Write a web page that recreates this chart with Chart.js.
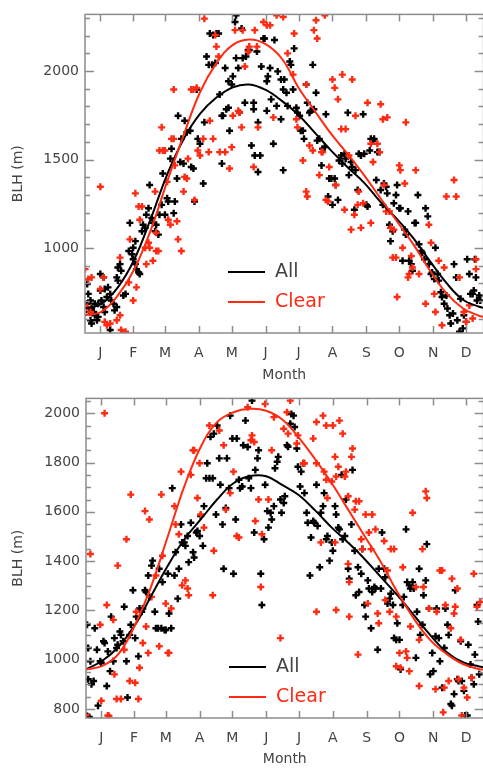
<!DOCTYPE html>
<html>
<head>
<meta charset="utf-8">
<script src="https://cdn.jsdelivr.net/npm/chart.js@4.4.1/dist/chart.umd.min.js"></script>
<style>
  html, body { margin: 0; padding: 0; background: #fff; overflow: hidden; }
  #wrap { position: relative; width: 483px; height: 769px; overflow: hidden; }
  canvas { position: absolute; left: 0; }
  #top { top: 0; }
  #bottom { top: 384px; }
</style>
</head>
<body>
<div id="wrap">
  <canvas id="top" width="490" height="385"></canvas>
  <canvas id="bottom" width="490" height="385"></canvas>
</div>
<script>
// month ticks sit at mid-month day of year
const monthDays = [15, 45, 74, 105, 135, 166, 196, 227, 258, 288, 319, 349];
const monthLabels = ['J', 'F', 'M', 'A', 'M', 'J', 'J', 'A', 'S', 'O', 'N', 'D'];

const topYTicks = [1000, 1500, 2000];
const botYTicks = [800, 1000, 1200, 1400, 1600, 1800, 2000];

// [day of year, BLH m]
const topAllPts = [
  [3,797],[4,741],[6,704],[3,685],[7,658],[9,639],[10,620],[13,611],[6,592],[15,853],[15,760],[18,834],[19,769],[21,723],[22,778],[24,741],[24,537],[25,704],[27,685],[28,648],[30,667],[16,704],[18,667],[19,639],[13,685],[10,685],[7,574],[31,890],[33,909],[34,872],[36,732],[38,741],[30,834],[31,816],[12,592],[5,639],
  [41,983],[44,965],[45,937],[47,909],[48,881],[50,862],[51,853],[45,1002],[47,1039],[42,1142],[53,1095],[54,1132],[56,1114],[57,1188],[59,1225],[60,1356],[62,1170],[63,1142],[65,1095],[66,1132],[68,1076],[69,1188],[71,1244],[72,1421],[74,1188],[76,1281],[77,1263],[79,1505],[80,1561],[82,1197],[83,1263],[85,1393],[86,1747],[88,1486],[89,1617],[91,1477],[92,1719],[94,1654],[97,1663],[98,1458],[100,1449],[101,1263],[103,1896],[104,1617],[106,1589],[109,1365],[110,1710],[112,2082],[114,2035],[115,2212],[117,2035],[118,2203],[120,2045],[121,2212],[123,2212],[124,1868],[126,1747],[127,1747],[126,1477],[129,2017],[130,1784],[132,1793],[132,1942],[133,1663],[135,1924],[136,1970],[138,2277],[139,2315],[139,2073],[141,2017],[142,1766],[144,2240],[145,2073],[147,1821],[148,2082],[150,2119],[151,2119],[153,1579],[155,1821],[155,1784],[156,1523],[158,2110],[159,1710],[159,1430],[161,1523],[162,2026],[164,2184],[165,2184],[167,1942],[167,1775],[168,1970],[170,2017],[171,1840],[173,1589],[174,2175],[176,1803],[177,1998],[182,1440],[180,1952],[182,1896],[180,1728],
  [183,1952],[185,1877],[186,1803],[188,2054],[189,2035],[191,1896],[192,2128],[194,1793],[195,1765],[197,1747],[198,1663],[200,1663],[201,1617],[203,1924],[204,1821],[206,1765],[207,1775],[209,2035],[210,1784],[212,1877],[213,1607],[215,1617],[217,1467],[218,1561],[220,1570],[221,1756],[223,1291],[224,1393],[226,1393],[227,1244],[229,1393],[230,1356],[232,1272],[233,1495],[235,1523],[236,1477],[238,1533],[239,1505],[241,1765],[242,1412],[244,1486],[245,1458],[247,1216],[248,1440],[250,1328],[251,1533],[253,1523],[255,1756],[256,1533],[258,1244],[259,1235],[261,1551],[262,1617],[264,1607],[265,1617],[267,1384],[268,1542],[270,1542],[271,1328],[273,1244],[274,1365],[276,1346],[277,1309],[279,1132],[280,1039],[282,1095],[283,1253],[285,1300],[286,1356],[288,1225],[289,1225],[291,928],[293,1104],[294,1076],[296,1207],[297,928],[299,909],[300,872],[302,1142],[303,1142],[305,1300],[306,1021],[308,983],[309,974],[311,937],[312,1225],[314,1179],[315,909],[317,853],[318,862],[320,825],[321,1002],[323,853],[324,816],[326,750],[327,723],[329,685],[331,732],[332,658],[334,620],[335,574],[337,630],[338,909],[340,834],[341,592],[343,527],[344,713],[346,546],[347,620],[349,583],[350,937],[352,853],[353,741],[355,741],[356,760],[358,834],[359,704],[361,732],[362,704],[357,937]
];

const topClearPts = [
  [1,881],[4,825],[7,834],[3,667],[6,639],[15,1346],[15,769],[18,834],[19,583],[21,564],[24,574],[30,592],[33,946],[33,620],[34,537],[38,527],[41,806],[42,1049],[45,704],[47,1309],[48,778],[50,1235],[51,1160],[53,1235],[56,1002],[57,909],[59,1030],[60,1002],[63,928],[65,1319],[66,983],[66,1086],[68,983],[69,1551],[71,1682],[72,1551],[74,1551],[76,1374],[77,1160],[79,1132],[80,1617],[82,1617],[82,1896],[83,1467],[85,1151],[86,1049],[89,983],[91,1319],[92,1402],[94,1393],[95,1505],[98,1896],[100,1896],[101,1272],[103,1905],[104,1551],[106,1523],[109,1617],[110,2296],[114,1542],[115,1719],[118,1617],[120,2203],[121,2138],[123,2082],[124,1542],[129,1542],[133,1449],[135,1570],[136,1747],[138,2231],[141,1775],[142,1766],[144,1682],[145,2231],[147,2026],[150,2110],[151,2138],[155,1458],[156,2231],[158,2138],[159,1682],[164,2277],[167,2259],[170,2259],[173,1738],[176,2315],
  [182,2305],[186,2100],[191,1980],[192,2212],[194,1728],[195,1682],[200,1495],[203,1924],[203,1319],[204,1291],[206,1579],[209,1551],[210,2231],[212,2287],[213,2184],[215,1412],[217,1542],[218,1542],[220,2315],[221,1272],[223,1263],[224,1458],[227,1952],[229,1905],[230,1356],[232,1840],[235,1672],[236,1980],[238,1216],[239,1672],[242,1523],[244,1104],[245,1952],[247,1188],[248,1747],[250,1244],[251,1319],[253,1114],[255,1253],[259,1821],[262,1589],[262,1142],[264,1486],[268,1589],[270,1542],[271,1812],[273,1728],[274,1356],[276,1207],[277,1738],[279,1207],[280,1114],[282,946],[283,1104],[285,946],[286,723],[288,1467],[289,1440],[291,1002],[293,1365],[294,1710],[296,834],[297,853],[299,955],[300,890],[303,1440],[306,853],[312,685],[315,1132],[317,1030],[320,741],[321,639],[324,928],[327,564],[329,890],[331,1291],[338,1384],[340,1291],[343,834],[347,639],[349,583],[352,676],[355,602],[358,881],[358,937]
];

const botAllPts = [
  [2,1142],[3,1048],[5,994],[6,901],[3,921],[8,914],[9,1128],[11,1041],[12,814],[14,994],[15,988],[17,1075],[18,1068],[20,894],[21,1034],[23,954],[24,1175],[26,994],[27,1088],[29,1048],[30,1061],[32,1115],[33,1101],[35,1075],[36,1215],[38,994],[39,847],[41,1101],[42,1142],[44,1282],[46,1088],[47,1175],[49,1014],[50,1208],[52,1195],[53,1208],[55,1282],[56,1275],[58,1342],[59,1255],[61,1382],[62,1402],[64,1195],[65,1128],[67,1128],[68,1369],[70,1128],[71,1315],[73,1121],[74,1121],[76,1349],[77,1188],[79,1128],[80,1696],[82,1342],[83,1436],[85,1248],[86,1369],[88,1549],[89,1476],[91,1476],[92,1462],[94,1502],[95,1396],[97,1556],[99,1436],[100,1415],[102,1516],[103,1522],[105,1502],[106,1583],[108,1462],[109,1623],[111,1736],[112,1797],[114,1736],[115,1904],[117,1736],[118,1917],[120,1589],[121,1950],[123,1817],[124,1710],[126,1549],[127,1369],[129,1616],[130,1817],[132,1696],[133,1990],[135,1897],[136,1349],[138,1569],[139,1897],[141,1730],[142,1696],[144,1703],[145,1870],[147,1970],[149,1863],[150,1736],[152,1696],[153,2051],[155,1516],[156,1770],[158,1817],[159,1850],[161,1349],[162,1222],[164,1489],[165,1710],[167,1603],[168,1536],[170,1596],[171,1569],[173,1623],[174,1777],[176,1803],[177,1823],[179,1650],[180,1596],[2,772],[4,768],
  [182,1636],[183,1663],[185,1870],[186,1864],[188,1957],[189,1997],[191,1990],[192,1944],[194,1857],[195,1783],[197,1703],[198,1763],[200,1797],[201,1676],[203,1596],[204,1556],[206,1342],[207,1496],[209,1563],[210,1556],[212,1710],[213,1543],[215,1375],[216,1596],[218,1623],[219,1676],[221,1489],[222,1502],[224,1402],[226,1476],[227,1442],[229,1623],[230,1589],[232,1536],[233,1529],[235,1750],[236,1489],[238,1502],[239,1650],[241,1369],[242,1329],[244,1549],[245,1770],[247,1442],[248,1262],[250,1375],[251,1275],[253,1349],[254,1449],[256,1222],[257,1175],[259,1322],[260,1289],[262,1128],[263,1275],[265,1295],[266,1289],[268,1041],[269,1369],[271,1289],[272,1516],[274,1369],[275,1335],[277,1228],[279,1248],[280,1268],[282,1222],[283,1088],[285,1081],[286,1148],[288,1081],[289,961],[291,1222],[292,1255],[294,1529],[295,1315],[297,1302],[298,1289],[300,1315],[301,1289],[303,1008],[304,1195],[306,1369],[307,1101],[309,1142],[310,1262],[312,1322],[313,1469],[315,1208],[316,941],[318,1028],[319,954],[321,1095],[322,1208],[324,1088],[325,994],[327,887],[329,1048],[330,1208],[332,1142],[333,1101],[335,821],[336,814],[338,861],[339,1282],[341,921],[342,914],[344,1075],[345,914],[347,874],[348,774],[350,774],[351,1061],[353,981],[354,927],[356,901],[357,1021],[359,1222],[360,1155],[361,941]
];

const botClearPts = [
  [5,1429],[18,2000],[14,1142],[15,834],[20,1222],[21,774],[26,1162],[27,941],[29,841],[30,1382],[33,841],[36,1041],[38,1489],[41,914],[42,1670],[46,907],[47,1195],[49,841],[50,968],[53,1068],[55,1603],[56,1135],[58,1028],[59,1569],[61,1255],[65,1342],[68,1055],[70,1670],[71,1422],[74,1228],[76,1028],[77,1028],[79,1208],[82,1623],[83,1549],[86,1509],[88,1763],[89,1302],[92,1322],[94,1289],[95,1262],[97,1750],[99,1850],[100,1850],[103,1656],[105,1797],[106,1589],[109,1536],[117,1262],[118,1442],[114,1950],[123,1930],[127,1870],[129,1609],[133,1676],[136,1763],[139,1502],[141,1496],[149,2024],[152,1890],[153,1910],[155,1883],[159,1650],[161,1295],[162,1509],[165,2037],[168,1650],[171,1850],[173,1984],[179,1088],[156,1563],[1,775],[22,772],
  [182,1937],[185,2004],[186,1917],[188,2051],[194,1877],[195,1910],[200,1797],[201,1797],[209,1897],[212,1964],[212,1797],[212,1195],[216,1476],[218,1990],[219,1763],[221,1950],[221,1730],[222,1656],[226,1723],[227,1950],[229,1823],[229,1476],[230,1743],[230,1202],[232,1783],[233,1970],[236,1917],[238,1743],[239,1763],[241,1663],[241,1389],[242,1315],[242,1175],[244,1823],[245,1857],[247,1609],[248,1643],[250,1021],[251,1643],[253,1489],[254,1449],[257,1589],[259,1228],[260,1516],[262,1449],[263,1589],[266,1529],[268,1188],[269,1148],[274,1482],[275,1242],[277,1362],[279,1195],[280,1449],[283,1449],[285,1175],[285,974],[288,1028],[289,968],[291,1375],[294,1034],[295,1008],[297,954],[298,1135],[300,1596],[303,1295],[306,1081],[309,1449],[310,1295],[312,1683],[313,1656],[315,1208],[321,881],[322,1195],[325,1362],[327,1362],[329,887],[330,1222],[333,914],[335,1128],[336,1329],[338,1188],[339,1215],[341,1289],[342,921],[344,1081],[347,887],[350,847],[354,927],[356,1349],[359,1215],[362,1235],[328,787],[345,774],[306,894]
];

// annual-cycle fits, sampled every 15 days
const fitDays = [1, 16, 31, 46, 61, 76, 91, 106, 121, 136, 151, 166, 181, 196, 211, 226, 241, 256, 271, 286, 301, 316, 331, 346, 361, 365];
const topAllFit = [658, 685, 778, 935, 1165, 1415, 1615, 1758, 1850, 1908, 1924, 1893, 1830, 1752, 1651, 1549, 1455, 1368, 1259, 1163, 1054, 926, 803, 708, 668, 662];
const topClearFit = [620, 640, 732, 880, 1100, 1375, 1637, 1880, 2045, 2148, 2178, 2152, 2068, 1906, 1773, 1643, 1530, 1410, 1280, 1150, 1019, 873, 745, 660, 617, 611];
const botAllFit = [961, 996, 1054, 1142, 1262, 1382, 1489, 1569, 1650, 1716, 1745, 1744, 1708, 1667, 1605, 1536, 1475, 1409, 1335, 1262, 1182, 1101, 1032, 990, 973, 970];
const botClearFit = [961, 975, 1025, 1142, 1302, 1502, 1703, 1863, 1964, 2004, 2018, 2010, 1973, 1900, 1812, 1716, 1609, 1502, 1396, 1275, 1168, 1081, 1024, 983, 962, 961];

const BLACK = '#000000';
const RED = '#ff2a12';
const AXIS = '#8c8c8c';
const TEXT = '#444444';
const FONT = "'DejaVu Sans', sans-serif";

const toXY = pts => pts.map(p => ({ x: p[0], y: p[1] }));
const fitXY = vals => vals.map((v, i) => ({ x: fitDays[i], y: v }));

// box around the plot with inward ticks on all four sides
const framePlugin = {
  id: 'frame',
  afterDraw(chart, args, opts) {
    const { ctx, chartArea: a, scales: { x, y } } = chart;
    ctx.save();
    ctx.strokeStyle = AXIS;
    ctx.lineWidth = 1.5;
    ctx.strokeRect(a.left, a.top, a.right - a.left, a.bottom - a.top);
    ctx.beginPath();
    monthDays.forEach(d => {
      const px = Math.round(x.getPixelForValue(d)) + 0.5;
      ctx.moveTo(px, a.bottom); ctx.lineTo(px, a.bottom - 7);
      ctx.moveTo(px, a.top); ctx.lineTo(px, a.top + 7);
    });
    const step = opts.minorStep;
    for (let v = Math.ceil(y.min / step) * step; v <= y.max; v += step) {
      const py = Math.round(y.getPixelForValue(v)) + 0.5;
      const len = v % opts.majorStep === 0 ? 9 : 5;
      ctx.moveTo(a.left, py); ctx.lineTo(a.left + len, py);
      ctx.moveTo(a.right, py); ctx.lineTo(a.right - len, py);
    }
    ctx.stroke();
    ctx.restore();
  }
};

// line key inside the plot, built from the fit datasets
const keyPlugin = {
  id: 'key',
  afterDraw(chart, args, opts) {
    const { ctx, chartArea: a } = chart;
    const fits = chart.data.datasets.filter(ds => ds.showLine);
    fits.sort((p, q) => p.keyRank - q.keyRank);
    ctx.save();
    ctx.font = '19px ' + FONT;
    ctx.textBaseline = 'middle';
    fits.forEach((ds, i) => {
      const yy = a.bottom - opts.gap + i * 30;
      ctx.strokeStyle = ds.borderColor;
      ctx.lineWidth = 2;
      ctx.beginPath();
      ctx.moveTo(a.left + 143, yy);
      ctx.lineTo(a.left + 180, yy);
      ctx.stroke();
      ctx.fillStyle = ds.keyText;
      ctx.fillText(ds.label, a.left + 190, yy);
    });
    ctx.restore();
  }
};

function makeChart(id, cfg) {
  const tickFont = { family: FONT, size: 14 };
  const fitLine = { showLine: true, pointRadius: 0, borderWidth: 2, tension: 0.4 };
  const marks = { pointStyle: 'cross', pointRadius: 3.5, borderWidth: 2.4 };
  return new Chart(document.getElementById(id), {
    type: 'scatter',
    data: {
      datasets: [
        { ...fitLine, label: 'Clear', data: fitXY(cfg.clearFit), borderColor: RED, order: 0, keyRank: 1, keyText: RED },
        { ...fitLine, label: 'All', data: fitXY(cfg.allFit), borderColor: BLACK, order: 1, keyRank: 0, keyText: TEXT },
        { ...marks, label: 'Clear days', data: toXY(cfg.clearPts), borderColor: RED, backgroundColor: RED, order: 2 },
        { ...marks, label: 'All days', data: toXY(cfg.allPts), borderColor: BLACK, backgroundColor: BLACK, order: 3 }
      ]
    },
    options: {
      responsive: false,
      animation: false,
      devicePixelRatio: 1,
      layout: { padding: { top: 11, right: 4, left: 0, bottom: 0 } },
      plugins: {
        legend: { display: false },
        tooltip: { enabled: false },
        frame: { minorStep: cfg.minorStep, majorStep: cfg.majorStep },
        key: { gap: cfg.keyGap }
      },
      scales: {
        x: {
          type: 'linear',
          min: 1,
          max: 365,
          afterBuildTicks: s => { s.ticks = monthDays.map(v => ({ value: v })); },
          afterFit: s => { s.height = cfg.xAxisHeight; },
          grid: { display: false, drawTicks: false },
          border: { display: false },
          ticks: {
            autoSkip: false,
            maxRotation: 0,
            padding: 12,
            color: TEXT,
            font: tickFont,
            callback: (v, i) => monthLabels[i]
          },
          title: { display: true, text: 'Month', color: TEXT, font: tickFont, padding: { top: 1, bottom: 1 } }
        },
        y: {
          min: cfg.yMin,
          max: cfg.yMax,
          afterBuildTicks: s => { s.ticks = cfg.yTicks.map(v => ({ value: v })); },
          afterFit: s => { s.width = cfg.yAxisWidth; },
          grid: { display: false, drawTicks: false },
          border: { display: false },
          ticks: { padding: 6, color: TEXT, font: tickFont, callback: v => String(v) },
          title: { display: true, text: 'BLH (m)', color: TEXT, font: tickFont, padding: { top: 10, bottom: 0 } }
        }
      }
    },
    plugins: [framePlugin, keyPlugin]
  });
}

makeChart('top', {
  allPts: topAllPts, clearPts: topClearPts, allFit: topAllFit, clearFit: topClearFit,
  yMin: 520, yMax: 2320, yTicks: topYTicks, minorStep: 100, majorStep: 500,
  yAxisWidth: 85, xAxisHeight: 52, keyGap: 61
});

makeChart('bottom', {
  allPts: botAllPts, clearPts: botClearPts, allFit: botAllFit, clearFit: botClearFit,
  yMin: 764, yMax: 2060, yTicks: botYTicks, minorStep: 50, majorStep: 200,
  yAxisWidth: 86, xAxisHeight: 51, keyGap: 51
});
</script>
</body>
</html>
